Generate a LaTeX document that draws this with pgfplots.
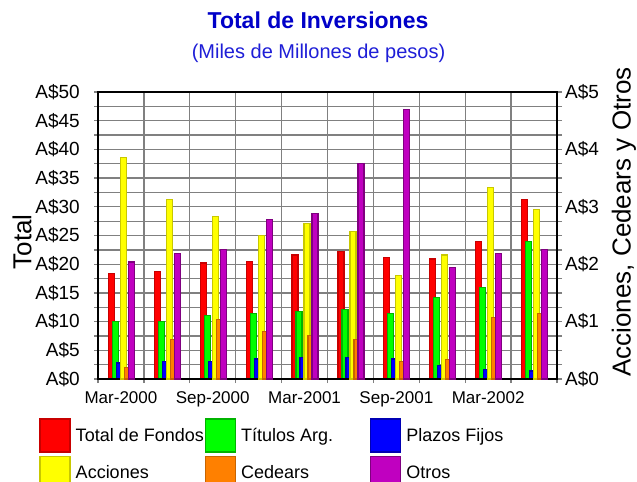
\documentclass[border=0pt]{standalone}
\usepackage{pgfplots}
\usepackage{pgfplotstable}
\pgfplotsset{compat=1.18}
\usepackage{fontspec}
\setmainfont{Liberation Sans}
\definecolor{gridgray}{RGB}{128,128,128}
\definecolor{titleblue}{RGB}{0,0,200}
\definecolor{subblue}{RGB}{30,30,215}
\definecolor{fRed}{RGB}{255,0,0}\definecolor{dRed}{RGB}{200,0,0}
\definecolor{fGreen}{RGB}{0,255,0}\definecolor{dGreen}{RGB}{0,180,0}
\definecolor{fBlue}{RGB}{0,0,255}\definecolor{dBlue}{RGB}{0,0,180}
\definecolor{fYellow}{RGB}{255,255,0}\definecolor{dYellow}{RGB}{200,200,0}
\definecolor{fOrange}{RGB}{255,128,0}\definecolor{dOrange}{RGB}{200,100,0}
\definecolor{fPurple}{RGB}{192,0,192}\definecolor{dPurple}{RGB}{128,0,128}

\pgfplotstableread{
x total titulos plazos acciones cedears otros
0 18.4 10.05 2.8 3.86 0.20 2.04
1 18.7 10.05 3.1 3.13 0.69 2.19
2 20.2 11.1 3.1 2.83 1.04 2.26
3 20.5 11.4 3.5 2.50 0.83 2.78
4 21.6 11.8 3.8 2.71 0.76 2.89
5 22.2 12.1 3.8 2.57 0.69 3.76
6 21.2 11.4 3.5 1.80 0.31 4.70
7 20.9 14.2 2.4 2.16 0.34 1.94
8 24.0 16.0 1.7 3.34 1.07 2.19
9 31.3 23.9 1.4 2.96 1.14 2.26
}\datatable

\pgfplotsset{
  common/.style={
    at={(98bp,-379bp)}, anchor=south west,
    scale only axis, width=459bp, height=287bp,
    xmin=-0.5, xmax=9.5,
    axis line style={black, line width=1.4bp},
    tick align=center,
    tick style={gridgray, line width=1.3bp},
    tick label style={font=\fontsize{19bp}{19bp}\selectfont},
  },
  bars/.style={ybar, bar width=6bp, line width=1.2bp, forget plot},
}

\begin{document}
\begin{tikzpicture}
\path[use as bounding box] (0,0) rectangle (637bp,-482bp);
\node[font=\fontsize{23bp}{25bp}\selectfont\bfseries, text=titleblue] at (318bp,-20bp) {Total de Inversiones};
\node[font=\fontsize{20bp}{22bp}\selectfont, text=subblue] at (318.5bp,-53bp) {(Miles de Millones de pesos)};
\node[rotate=90, font=\fontsize{26bp}{28bp}\selectfont] at (22bp,-242bp) {Total};
\node[rotate=90, font=\fontsize{26bp}{28bp}\selectfont] at (624bp,-222bp) {Acciones, Cedears y Otros};

\begin{axis}[common,
  ymin=0, ymax=50,
  xtick pos=bottom, ytick pos=left,
  xtick={-0.5,0.5,...,9.5}, xticklabels={,,,,,,,,,,},
  extra x ticks={0,2,4,6,8},
  extra x tick labels={Mar-2000,Sep-2000,Mar-2001,Sep-2001,Mar-2002},
  extra x tick style={grid=none, major tick length=0pt},
  xticklabel style={font=\fontsize{17bp}{17bp}\selectfont, inner sep=0pt, yshift=-12bp},
  ytick={0,5,...,50}, minor y tick num=1,
  yticklabels={A\$0,A\$5,A\$10,A\$15,A\$20,A\$25,A\$30,A\$35,A\$40,A\$45,A\$50},
  yticklabel style={inner sep=0pt, xshift=-14bp},
  major tick length=8bp, minor tick length=8bp,
  xmajorgrids, ymajorgrids, yminorgrids,
  grid style={gridgray, line width=1.3bp},
  minor grid style={gridgray, line width=1.3bp},
]
\addplot[bars, bar shift=-9.5bp, fill=fRed, draw=dRed] table[x=x,y=total]{\datatable};
\addplot[bars, bar shift=-5.5bp, fill=fGreen, draw=dGreen] table[x=x,y=titulos]{\datatable};
\addplot[bars, bar shift=-1.5bp, fill=fBlue, draw=dBlue] table[x=x,y=plazos]{\datatable};
\end{axis}

\begin{axis}[common,
  ymin=0, ymax=5,
  xtick=\empty, ytick pos=right,
  ytick={0,1,...,5}, minor y tick num=3,
  yticklabels={A\$0,A\$1,A\$2,A\$3,A\$4,A\$5},
  yticklabel style={inner sep=0pt, xshift=3bp},
  major tick length=10bp, minor tick length=10bp,
  legend columns=3,
  legend image code/.code={\draw[#1, line width=1.5bp] (0bp,-16.5bp) rectangle (30bp,16.5bp);},
  legend style={at={(-0.128,-0.136)}, anchor=north west, draw=none, fill=none,
    inner sep=0pt, outer sep=0pt, row sep=3bp, column sep=0pt,
    nodes={inner sep=0pt}, cells={anchor=west},
    font=\fontsize{18bp}{18bp}\selectfont},
]
\addplot[bars, bar shift=2.5bp, fill=fYellow, draw=dYellow] table[x=x,y=acciones]{\datatable};
\addplot[bars, bar shift=6.5bp, fill=fOrange, draw=dOrange] table[x=x,y=cedears]{\datatable};
\addplot[bars, bar shift=10.5bp, fill=fPurple, draw=dPurple] table[x=x,y=otros]{\datatable};
\addlegendimage{fill=fRed, draw=dRed}
\addlegendentry{\makebox[133.8bp][l]{\hspace{5bp}Total de Fondos}}
\addlegendimage{fill=fGreen, draw=dGreen}
\addlegendentry{\makebox[133.8bp][l]{\hspace{5bp}Títulos Arg.}}
\addlegendimage{fill=fBlue, draw=dBlue}
\addlegendentry{\makebox[133.8bp][l]{\hspace{5bp}Plazos Fijos}}
\addlegendimage{fill=fYellow, draw=dYellow}
\addlegendentry{\makebox[133.8bp][l]{\hspace{5bp}Acciones}}
\addlegendimage{fill=fOrange, draw=dOrange}
\addlegendentry{\makebox[133.8bp][l]{\hspace{5bp}Cedears}}
\addlegendimage{fill=fPurple, draw=dPurple}
\addlegendentry{\makebox[133.8bp][l]{\hspace{5bp}Otros}}
\end{axis}
\end{tikzpicture}
\end{document}
